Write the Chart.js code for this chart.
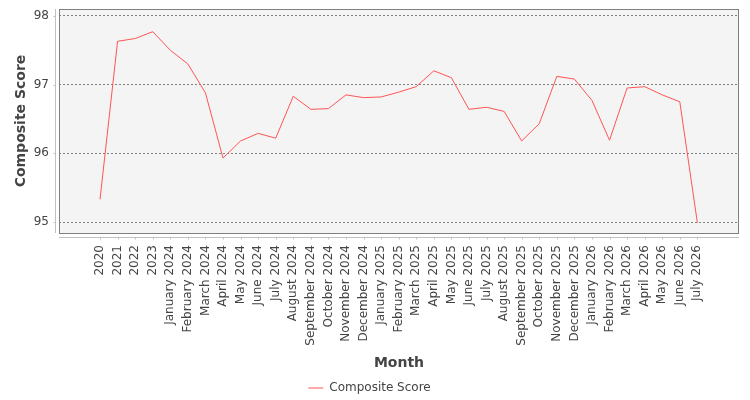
<!DOCTYPE html>
<html><head><meta charset="utf-8">
<script src="https://cdn.jsdelivr.net/npm/chart.js@4.4.1/dist/chart.umd.min.js"></script>
<style>html,body{margin:0;padding:0;background:#fff}#wrap{width:750px;height:400px}</style>
</head><body><div id="wrap"><canvas id="c" width="750" height="400"></canvas></div>
<script>
const categories = ["2020","2021","2022","2023",
  "January 2024","February 2024","March 2024","April 2024","May 2024","June 2024","July 2024","August 2024","September 2024","October 2024","November 2024","December 2024",
  "January 2025","February 2025","March 2025","April 2025","May 2025","June 2025","July 2025","August 2025","September 2025","October 2025","November 2025","December 2025",
  "January 2026","February 2026","March 2026","April 2026","May 2026","June 2026","July 2026"];
const compositeScore = [95.33,97.63,97.67,97.77,
  97.50,97.30,96.88,95.93,96.18,96.29,96.22,96.83,96.64,96.65,96.85,96.81,
  96.82,96.89,96.97,97.20,97.10,96.64,96.67,96.61,96.18,96.43,97.12,97.08,
  96.77,96.19,96.95,96.97,96.85,96.75,94.99];
const yTicks = [95,96,97,98];
const xMin = -2.335, xMax = 36.37;
const yMin = 94.84, yMax = 98.10;

const FONT = "'DejaVu Sans', sans-serif";

const plotFrame = {
  id: 'plotFrame',
  beforeDraw(chart) {
    const {ctx, chartArea: a} = chart;
    ctx.save();
    ctx.fillStyle = '#f4f4f4';
    ctx.fillRect(a.left, a.top, a.right - a.left, a.bottom - a.top);
    ctx.restore();
  },
  afterDraw(chart) {
    const {ctx, chartArea: a, scales} = chart;
    ctx.save();
    ctx.lineWidth = 1;
    ctx.strokeStyle = '#808080';
    ctx.strokeRect(a.left + 0.5, a.top + 0.5, a.right - a.left - 1, a.bottom - a.top);
    ctx.strokeStyle = '#c0c0c0';
    ctx.beginPath();
    const ax = a.left - 3.5;
    ctx.moveTo(ax, a.top); ctx.lineTo(ax, a.bottom);
    yTicks.forEach(v => { const y = Math.round(scales.y.getPixelForValue(v)) + 0.5; ctx.moveTo(ax - 2, y); ctx.lineTo(ax, y); });
    const ay = a.bottom + 4.5;
    ctx.moveTo(a.left, ay); ctx.lineTo(a.right, ay);
    categories.forEach((_, i) => { const x = Math.round(scales.x.getPixelForValue(i)) + 0.5; ctx.moveTo(x, ay); ctx.lineTo(x, ay + 2); });
    ctx.stroke();
    ctx.restore();
  }
};

new Chart(document.getElementById('c'), {
  type: 'line',
  data: {
    datasets: [{
      label: 'Composite Score',
      data: compositeScore.map((v, i) => ({x: i, y: v})),
      borderColor: '#ff5555',
      backgroundColor: '#ff5555',
      borderWidth: 1,
      pointRadius: 0,
      tension: 0,
      fill: false
    }]
  },
  options: {
    responsive: false,
    devicePixelRatio: 1,
    animation: false,
    layout: {padding: {top: 9, right: 11, left: 0, bottom: -4}},
    plugins: {
      tooltip: {enabled: false},
      legend: {
        position: 'bottom',
        labels: {
          usePointStyle: true, pointStyle: 'line', pointStyleWidth: 15,
          color: '#444', padding: 10,
          font: {family: FONT, size: 12}
        }
      }
    },
    scales: {
      x: {
        type: 'linear',
        min: xMin, max: xMax,
        afterBuildTicks: s => { s.ticks = categories.map((_, i) => ({value: i})); },
        afterFit: s => { s.height = 139; s.paddingLeft = 0; s.paddingRight = 0; },
        grid: {display: false, drawTicks: false},
        border: {display: false},
        ticks: {
          autoSkip: false, minRotation: 90, maxRotation: 90, padding: 12,
          color: '#444', font: {family: FONT, size: 12},
          callback: v => categories[v] ?? ''
        },
        title: {display: true, text: 'Month', color: '#444', padding: {top: 0, bottom: 0},
          font: {family: FONT, size: 14, weight: 'bold'}}
      },
      y: {
        type: 'linear',
        min: yMin, max: yMax,
        afterBuildTicks: s => { s.ticks = yTicks.map(v => ({value: v})); },
        afterFit: s => { s.width = 59; s.paddingTop = 0; s.paddingBottom = 0; },
        grid: {color: '#808080', borderDash: [2, 2], drawTicks: false, lineWidth: 1},
        border: {display: false, dash: [2, 2]},
        ticks: {padding: 10, color: '#444', font: {family: FONT, size: 12}},
        title: {display: true, text: 'Composite Score', color: '#444', padding: {top: 13, bottom: 0},
          font: {family: FONT, size: 14, weight: 'bold'}}
      }
    }
  },
  plugins: [plotFrame]
});
</script></body></html>
